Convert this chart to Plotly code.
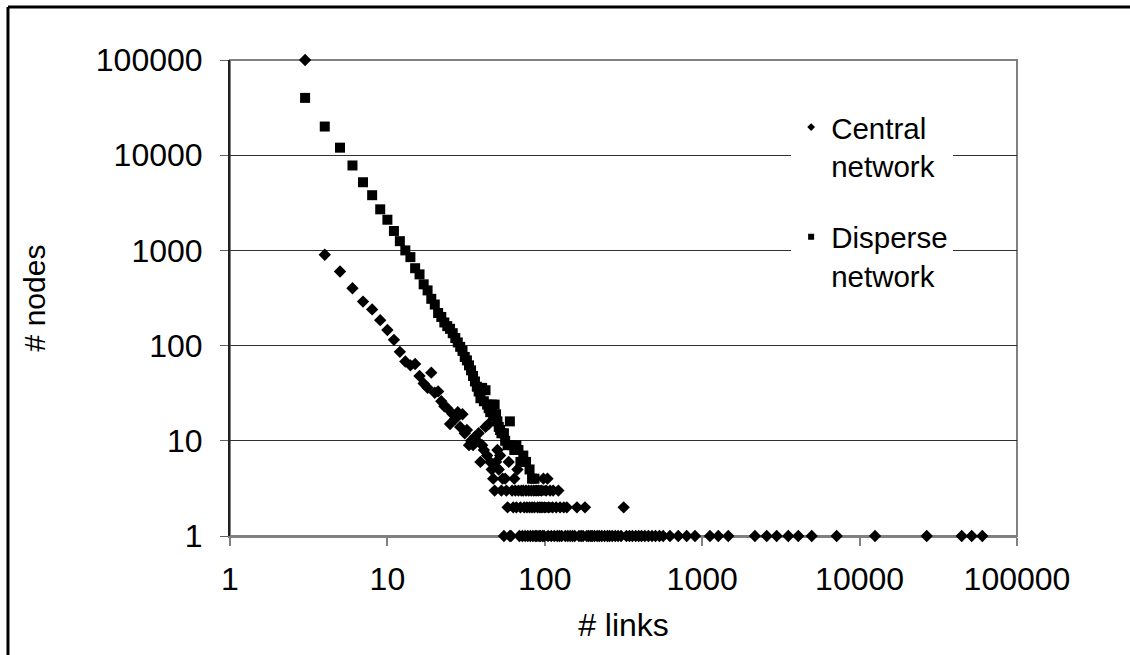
import plotly.graph_objects as go

# ---------------- data ----------------
central_links = [3, 4, 5, 6, 7, 8, 9, 10, 11, 12, 13, 14, 15, 16, 17, 18, 19, 20,
                 21, 22, 23, 24, 25, 26, 27, 28, 29, 30, 31, 32, 33, 34, 35, 36, 37, 38,
                 39, 40, 41, 42, 43, 44, 45, 46, 47, 48, 49, 50, 51, 52, 53, 54, 55, 56,
                 57, 58, 59, 60, 61, 62, 63, 64, 65, 66, 67, 68, 69, 70, 71, 72, 73, 74,
                 75, 76, 77, 78, 79, 80, 81, 82, 83, 84, 85, 86, 87, 88, 89, 90, 91, 92,
                 93, 94, 95, 96, 97, 98, 99, 100, 102, 104, 105, 106, 108, 110, 112, 113,
                 115, 118, 120, 122, 124, 125, 128, 132, 135, 138, 140, 145, 150, 155,
                 160, 165, 170, 175, 180, 185, 190, 196, 200, 207, 215, 222, 230, 240,
                 250, 258, 268, 280, 292, 305, 317, 330, 345, 360, 378, 395, 412, 432,
                 455, 480, 505, 535, 565, 624, 705, 797, 900, 1120, 1266, 1465, 2163,
                 2570, 2973, 3524, 4077, 4962, 7150, 12530, 26700, 44540, 51540, 60200]
central_nodes = [100000, 900, 600, 400, 290, 240, 185, 146, 115, 86, 68, 62, 64, 48, 40, 36, 52, 32,
                 33, 26, 23, 22, 15, 19, 17, 20, 14, 19, 12, 13, 9, 10, 9, 11, 10, 12,
                 6, 9, 8, 14, 7, 15, 6, 5, 4, 3, 6, 8, 5, 7, 3, 4, 1, 4,
                 3, 2, 6, 1, 1, 3, 2, 4, 3, 2, 5, 3, 1, 2, 3, 1, 3, 2,
                 1, 3, 2, 1, 3, 2, 1, 3, 2, 1, 3, 2, 1, 3, 1, 2, 3, 1,
                 2, 1, 3, 2, 1, 4, 1, 2, 3, 4, 1, 2, 3, 1, 2, 3,
                 1, 2, 1, 3, 1, 2, 1, 2, 1, 2, 1, 1, 1, 1,
                 2, 1, 1, 1, 2, 1, 1, 1, 1, 1, 1, 1, 1, 1,
                 1, 1, 1, 1, 1, 1, 2, 1, 1, 1, 1, 1, 1, 1,
                 1, 1, 1, 1, 1, 1, 1, 1, 1, 1, 1, 1, 1,
                 1, 1, 1, 1, 1, 1, 1, 1, 1, 1, 1]

disperse_links = [3, 4, 5, 6, 7, 8, 9, 10, 11, 12, 13, 14, 15, 16, 17, 18, 19, 20,
                  21, 22, 23, 24, 25, 26, 27, 28, 29, 30, 31, 32, 33, 34, 35, 36, 37, 38,
                  39, 40, 41, 42, 43, 44, 45, 46, 47, 48, 49, 50, 51, 52, 53, 55, 56, 58,
                  60, 62, 64, 66, 68, 70, 73, 76, 80, 83, 86, 90, 94, 100, 105, 110, 120]
disperse_nodes = [40000, 20000, 12000, 7800, 5200, 3800, 2700, 2100, 1600, 1250, 1000, 850, 650, 560, 440, 380, 310, 270,
                  220, 200, 175, 160, 150, 135, 120, 108, 97, 88, 76, 70, 62, 55, 48, 42, 37, 33,
                  28, 36, 26, 34, 24, 22, 20, 24, 18, 24, 19, 16, 14, 13, 12, 12, 10, 9,
                  16, 9, 8, 9, 8, 6, 7, 6, 5, 4, 4, 3, 3, 2, 2, 1, 1]

tick_vals = [1, 10, 100, 1000, 10000, 100000]
tick_text = ["1", "10", "100", "1000", "10000", "100000"]

series_names = ["Central<br>network", "Disperse<br>network"]

FONT = "Liberation Sans, Arial, sans-serif"

fig = go.Figure()

fig.add_trace(go.Scatter(
    x=central_links, y=central_nodes, mode="markers",
    marker=dict(symbol="diamond", size=9.5, color="black", line=dict(width=0)),
    showlegend=False, cliponaxis=False, hoverinfo="x+y"))
fig.add_trace(go.Scatter(
    x=disperse_links, y=disperse_nodes, mode="markers",
    marker=dict(symbol="square", size=10, color="black", line=dict(width=0)),
    showlegend=False, cliponaxis=False, hoverinfo="x+y"))

# legend entries (small symbols as in the original)
fig.add_trace(go.Scatter(
    x=[None], y=[None], mode="markers", name=series_names[0], legendgroup="a",
    marker=dict(symbol="diamond", size=6, color="black")))
fig.add_trace(go.Scatter(
    x=[None], y=[None], mode="markers", name=series_names[1], legendgroup="b",
    marker=dict(symbol="square", size=6, color="black")))

fig.update_layout(
    width=1130, height=655, autosize=False,
    margin=dict(l=230, r=113, t=60, b=119, pad=0),
    paper_bgcolor="white", plot_bgcolor="white",
    font=dict(family=FONT, size=28, color="black"),
    legend=dict(x=0.713, y=0.913, xanchor="left", yanchor="top",
                bgcolor="white", borderwidth=0, font=dict(size=29.5),
                traceorder="grouped", tracegroupgap=30, valign="top",
                itemwidth=30),
    xaxis=dict(type="log", range=[0, 5], tickvals=tick_vals, ticktext=tick_text,
               ticks="outside", ticklen=8, tickcolor="#808080", tickwidth=2,
               showline=True, linecolor="#808080", linewidth=2,
               showgrid=False, zeroline=False, layer="below traces",
               tickfont=dict(size=32), ticklabelstandoff=6,
               title=dict(text="# links", font=dict(size=32), standoff=17)),
    yaxis=dict(type="log", range=[0, 5], tickvals=tick_vals, ticktext=tick_text,
               ticks="outside", ticklen=8, tickcolor="#606060", tickwidth=1,
               showline=True, linecolor="#202020", linewidth=2,
               showgrid=True, gridcolor="#303030", gridwidth=1,
               zeroline=False, layer="below traces",
               tickfont=dict(size=32), ticklabelstandoff=11,
               title=dict(text="# nodes", font=dict(size=30), standoff=41)),
    shapes=[
        dict(type="rect", xref="paper", yref="paper", x0=0, x1=1, y0=0, y1=1,
             line=dict(color="#808080", width=2), layer="below"),
        # outer chart frame: only its top and left edges fall inside the picture
        dict(type="line", xref="paper", yref="paper",
             x0=-0.2821, x1=1.3, y0=1.1113, y1=1.1113,
             line=dict(color="black", width=3), layer="below"),
        dict(type="line", xref="paper", yref="paper",
             x0=-0.2821, x1=-0.2821, y0=-0.4, y1=1.1113,
             line=dict(color="black", width=3), layer="below"),
    ],
)

fig.write_html(
    "out.html",
    post_script="document.documentElement.style.overflow='hidden';"
                "document.body.style.overflow='hidden';document.body.style.margin='0';",
)
